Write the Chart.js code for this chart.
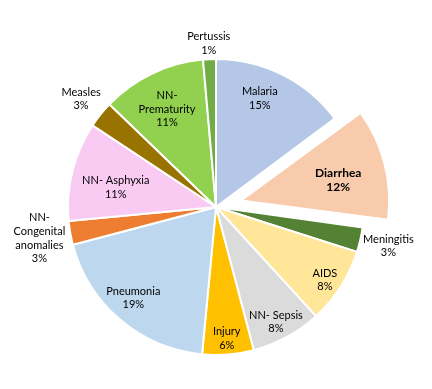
<!DOCTYPE html>
<html>
<head>
<meta charset="utf-8">
<script src="https://cdn.jsdelivr.net/npm/chart.js@4"></script>
<style>
    html, body { margin: 0; padding: 0; background: #ffffff; }
    #wrap { width: 432px; height: 389px; }
</style>
</head>
<body>
<div id="wrap"><canvas id="causes-chart" width="432" height="389"></canvas></div>
<script>
// causes, clockwise from 12 o'clock
const categories = [
    "Malaria",
    "Diarrhea",
    "Meningitis",
    "AIDS",
    ["NN- Sepsis"],
    "Injury",
    "Pneumonia",
    ["NN-", "Congenital", "anomalies"],
    ["NN- Asphyxia"],
    "Measles",
    ["NN-", "Prematurity"],
    "Pertussis",
];
const shares = [14.8, 12.4, 2.7, 8.3, 7.7, 5.6, 19.4, 2.6, 10.8, 2.9, 11.4, 1.4];

const sliceColors = [
    "#B4C7E7", "#F8CBAD", "#548235", "#FFE699", "#DBDBDB", "#FFC000",
    "#BDD7EE", "#ED7D31", "#F9CBF3", "#997300", "#92D050", "#70AD47",
];
// explode distance in pixels (Chart.js v4 draws offset / 4)
const sliceOffsets = [0, 26, 0, 0, 0, 0, 0, 0, 0, 0, 0, 0];

// label placement: fraction of radius (null = outside the pie), angle nudge in degrees
const labelDist = [0.79, 0.67, null, 0.885, 0.876, 0.89, 0.83, null, 0.69, null, 0.74, null];
const labelNudge = [-4.6, 2.5, 0, 1.2, 1.1, 0, 2, 0, -3, 0, -1, 0];
const boldLabel = "Diarrhea";
const pieRadius = 148;

const total = shares.reduce((a, b) => a + b, 0);

// keep exploded slices at the same radius as the rest
const keepRadius = {
    id: "keepRadius",
    afterDatasetUpdate(chart) {
        const meta = chart.getDatasetMeta(0);
        meta.data.forEach(function (arc, i) {
            const o = sliceOffsets[i];
            if (o) {
                const fix = 1 - Math.sin(Math.min(Math.PI, arc.circumference));
                arc.outerRadius = pieRadius - o * fix;
            }
        });
    },
};

const sliceLabels = {
    id: "sliceLabels",
    afterDatasetsDraw(chart) {
        const ctx = chart.ctx;
        const meta = chart.getDatasetMeta(0);
        const lh = 13.7;
        ctx.save();
        ctx.fillStyle = "#000000";
        ctx.textAlign = "center";
        ctx.textBaseline = "middle";
        meta.data.forEach(function (arc, i) {
            const p = arc.getProps(["x", "y", "startAngle", "endAngle"], true);
            const mid = (p.startAngle + p.endAngle) / 2;
            const cat = categories[i];
            const lines = (Array.isArray(cat) ? cat.slice() : [cat]);
            lines.push(Math.round(shares[i] / total * 100) + "%");
            const bold = cat === boldLabel;
            ctx.font = bold ? "bold 12px Lato" : "11px Lato";

            const off = sliceOffsets[i];
            const cx = p.x + Math.cos(mid) * off;
            const cy = p.y + Math.sin(mid) * off;
            const ang = mid + labelNudge[i] * Math.PI / 180;
            let d;
            if (labelDist[i] === null) {
                const w = Math.max.apply(null, lines.map(t => ctx.measureText(t).width));
                const h = lines.length * lh;
                d = pieRadius + 1 + Math.abs(Math.cos(ang)) * w / 2 + Math.abs(Math.sin(ang)) * h / 2;
            } else {
                d = labelDist[i] * pieRadius;
            }
            const lx = cx + Math.cos(ang) * d;
            const ly = cy + Math.sin(ang) * d;
            const top = ly - (lines.length - 1) * lh / 2;
            lines.forEach(function (t, k) {
                ctx.fillText(t, lx, top + k * lh);
            });
        });
        ctx.restore();
    },
};

new Chart(document.getElementById("causes-chart"), {
    type: "pie",
    data: {
        labels: categories,
        datasets: [
            {
                data: shares,
                backgroundColor: sliceColors,
                borderColor: "#ffffff",
                borderWidth: 2,
                offset: sliceOffsets.map(o => o * 4),
                hoverOffset: 0,
            },
        ],
    },
    options: {
        responsive: false,
        animation: false,
        radius: pieRadius,
        layout: { padding: { top: 25, bottom: 0 } },
        events: [],
        plugins: {
            legend: { display: false },
            tooltip: { enabled: false },
        },
    },
    plugins: [keepRadius, sliceLabels],
});
</script>
</body>
</html>
